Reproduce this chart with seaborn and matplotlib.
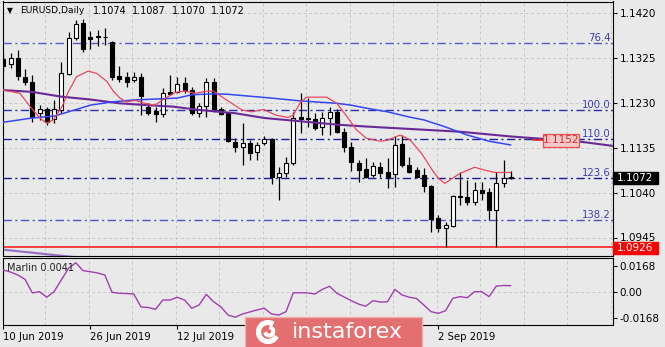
import numpy as np
import pandas as pd
import matplotlib
matplotlib.use("Agg")
import matplotlib.pyplot as plt
import seaborn as sns
from matplotlib.patches import Rectangle, Wedge
from matplotlib.transforms import blended_transform_factory, ScaledTranslation

sns.set_theme(style="white")
plt.rcParams["font.family"] = ["DejaVu Sans"]
plt.rcParams["lines.scale_dashes"] = False
plt.rcParams["axes.linewidth"] = 0.8

BG = "#e9e9e9"
W, H = 665, 347

# ---------------- EURUSD daily candles (bar 0 = 10 Jun 2019) ----------------
opens = [1.1324, 1.1313, 1.1326, 1.1286, 1.1276, 1.1210, 1.1218, 1.1197, 1.1216, 1.1292,
         1.1367, 1.1399, 1.1371, 1.1372, 1.1369, 1.1360, 1.1288, 1.1286, 1.1279, 1.1285,
         1.1223, 1.1214, 1.1207, 1.1253, 1.1253, 1.1272, 1.1258, 1.1209, 1.1224, 1.1276,
         1.1217, 1.1209, 1.1149, 1.1138, 1.1146, 1.1128, 1.1146, 1.1154, 1.1075, 1.1082,
         1.1103, 1.1202, 1.1198, 1.1196, 1.1179, 1.1198, 1.1212, 1.1170, 1.1138, 1.1103,
         1.1091, 1.1079, 1.1096, 1.1086, 1.1081, 1.1144, 1.1100, 1.1089, 1.1079, 1.1055,
         1.0987, 1.0966, 1.0971, 1.1034, 1.1033, 1.1022, 1.1046, 1.1042, 1.1005, 1.1061,
         1.1074]
highs = [1.1336, 1.1336, 1.1343, 1.1302, 1.1290, 1.1226, 1.1223, 1.1237, 1.1318, 1.1381,
         1.1406, 1.1409, 1.1383, 1.1385, 1.1389, 1.1362, 1.1309, 1.1297, 1.1297, 1.1293,
         1.1231, 1.1223, 1.1262, 1.1290, 1.1286, 1.1286, 1.1264, 1.1230, 1.1283, 1.1283,
         1.1223, 1.1210, 1.1156, 1.1188, 1.1153, 1.1149, 1.1160, 1.1156, 1.1095, 1.1116,
         1.1212, 1.1251, 1.1241, 1.1209, 1.1212, 1.1223, 1.1219, 1.1177, 1.1149, 1.1110,
         1.1114, 1.1107, 1.1107, 1.1114, 1.1160, 1.1163, 1.1116, 1.1096, 1.1093, 1.1058,
         1.0994, 1.0980, 1.1036, 1.1086, 1.1068, 1.1064, 1.1064, 1.1051, 1.1086, 1.1110,
         1.1087]
lows = [1.1296, 1.1305, 1.1279, 1.1269, 1.1191, 1.1195, 1.1184, 1.1188, 1.1210, 1.1290,
        1.1364, 1.1339, 1.1344, 1.1350, 1.1353, 1.1279, 1.1276, 1.1265, 1.1276, 1.1205,
        1.1205, 1.1191, 1.1202, 1.1248, 1.1251, 1.1251, 1.1205, 1.1202, 1.1202, 1.1212,
        1.1205, 1.1149, 1.1128, 1.1100, 1.1110, 1.1110, 1.1142, 1.1060, 1.1026, 1.1075,
        1.1100, 1.1167, 1.1181, 1.1174, 1.1163, 1.1163, 1.1167, 1.1128, 1.1088, 1.1064,
        1.1072, 1.1075, 1.1075, 1.1051, 1.1054, 1.1096, 1.1082, 1.1072, 1.1043, 1.0959,
        1.0959, 1.0926, 1.0968, 1.1015, 1.1015, 1.1015, 1.1026, 1.0984, 1.0927, 1.1054,
        1.1070]
closes = [1.1309, 1.1326, 1.1288, 1.1274, 1.1202, 1.1218, 1.1191, 1.1218, 1.1293, 1.1367,
          1.1397, 1.1344, 1.1366, 1.1369, 1.1371, 1.1286, 1.1281, 1.1276, 1.1286, 1.1245,
          1.1210, 1.1207, 1.1251, 1.1250, 1.1270, 1.1258, 1.1210, 1.1224, 1.1276, 1.1219,
          1.1207, 1.1151, 1.1138, 1.1146, 1.1126, 1.1142, 1.1154, 1.1074, 1.1082, 1.1103,
          1.1200, 1.1196, 1.1197, 1.1177, 1.1198, 1.1212, 1.1170, 1.1138, 1.1107, 1.1089,
          1.1075, 1.1098, 1.1082, 1.1075, 1.1142, 1.1100, 1.1086, 1.1075, 1.1055, 1.0985,
          1.0966, 1.0973, 1.1034, 1.1032, 1.1022, 1.1046, 1.1040, 1.1005, 1.1062, 1.1072,
          1.1072]

# Moving averages (bar position, price)
fast_ma_bar = [0, 2.3, 3.7, 5.1, 6, 6.9, 8.1, 9, 10.1, 11.7, 12.9, 14.3, 15.2, 16.1, 17,
               18.2, 19.5, 20.9, 22.3, 23.7, 25.1, 26.4, 27.8, 29, 30.1, 31.5, 32.9, 34.3,
               35.9, 37.6, 39.3, 40, 40.9, 41.8, 44.6, 46, 47.4, 48.7, 50.1, 52, 53, 54.7,
               56.1, 57.7, 59.3, 60, 60.9, 63, 65, 66.4, 67.8, 70]
fast_ma = [1.1258, 1.1251, 1.1223, 1.1198, 1.1188, 1.1195, 1.1223, 1.1255, 1.1286, 1.1298,
           1.1293, 1.1276, 1.1255, 1.1241, 1.1233, 1.1236, 1.1230, 1.1226, 1.1240, 1.1253,
           1.1256, 1.1251, 1.1255, 1.1256, 1.1244, 1.1230, 1.1216, 1.1212, 1.1217, 1.1205,
           1.1200, 1.1205, 1.1230, 1.1243, 1.1243, 1.1230, 1.1202, 1.1174, 1.1156, 1.1150,
           1.1152, 1.1163, 1.1153, 1.1124, 1.1086, 1.1072, 1.1061, 1.1082, 1.1095, 1.1089,
           1.1084, 1.1084]
mid_ma_bar = [0, 4, 7, 9, 12, 15, 18, 21, 24, 26, 29, 31, 34, 37, 41, 44, 46, 48, 50, 53,
              56, 58, 61, 64, 67, 70]
mid_ma = [1.1190, 1.1199, 1.1203, 1.1212, 1.1226, 1.1233, 1.1237, 1.1239, 1.1241, 1.1248,
          1.1250, 1.1249, 1.1245, 1.1241, 1.1235, 1.1232, 1.1230, 1.1226, 1.1220, 1.1212,
          1.1201, 1.1195, 1.1180, 1.1163, 1.1150, 1.1142]
trend_bar = [0, 4, 8, 12, 16, 20, 23.4, 27, 32, 36, 41, 46, 50, 54.7, 63, 70, 79.6, 84.1]
trend = [1.1258, 1.1254, 1.1244, 1.1238, 1.1230, 1.1226, 1.1223, 1.1216, 1.1209, 1.1199,
         1.1192, 1.1185, 1.1181, 1.1177, 1.1170, 1.1160, 1.1149, 1.1140]
low_line_bar = [0, 10]
low_line = [1.0921, 1.0905]

# Fibonacci expansion levels
fib_labels = ["76.4", "100.0", "110.0", "123.6", "138.2"]
fib_prices = [1.1358, 1.1216, 1.1154, 1.1072, 1.0984]
fib_colors = ["#5a5ac4", "#2e2eaa", "#20209a", "#1a1a8e", "#5252c0"]

support_price = 1.0926
last_price = 1.1072
trend_label_price = 1.1152

# Marlin oscillator
marlin = [0.0142, 0.0129, 0.0110, 0.0082, -0.0006, 0.0002, -0.0034, 0.0002, 0.0078, 0.0153,
          0.0189, 0.0138, 0.0131, 0.0123, 0.0110, -0.0002, -0.0008, -0.0010, -0.0013, -0.0097,
          -0.0100, -0.0112, -0.0052, -0.0052, -0.0034, -0.0052, -0.0105, -0.0084, -0.0015, -0.0063,
          -0.0095, -0.0149, -0.0163, -0.0142, -0.0129, -0.0116, -0.0105, -0.0142, -0.0149, -0.0127,
          -0.0005, -0.0005, -0.0006, -0.0013, 0.0017, 0.0037, -0.0008, -0.0032, -0.0056, -0.0078,
          -0.0092, -0.0056, -0.0065, -0.0063, 0.0017, -0.0019, -0.0034, -0.0042, -0.0084, -0.0127,
          -0.0138, -0.0121, -0.0041, -0.0030, -0.0037, 0.0002, 0.0002, -0.0030, 0.0038, 0.0042,
          0.0041]

price_ticks = [1.1420, 1.1325, 1.1230, 1.1135, 1.1040, 1.0945]
osc_ticks = [0.0168, 0.0, -0.0168]
osc_tick_labels = ["0.0168", "0.00", "-0.0168"]
date_bars = [0, 12, 24, 60]
date_labels = ["10 Jun 2019", "26 Jun 2019", "12 Jul 2019", "2 Sep 2019"]


def fx(px):
    return px / W


def fy(py):
    return 1 - py / H


fig = plt.figure(figsize=(W / 100, H / 100), dpi=100, facecolor=BG)
ax = fig.add_axes([fx(2.5), fy(255.5), fx(612.5) - fx(2.5), fy(1.5) - fy(255.5)], facecolor=BG)
ax2 = fig.add_axes([fx(2.5), fy(325), fx(612.5) - fx(2.5), fy(258) - fy(325)], facecolor=BG)

XMIN, XMAX = -0.11, 84.03
PX_PER_UNIT = 4736.8
for a in (ax, ax2):
    a.set_xlim(XMIN, XMAX)
    for s in a.spines.values():
        s.set_color("black")
        s.set_linewidth(0.8)
ax.set_ylim(1.09087, 1.14449)
ax2.set_ylim(-0.02133, 0.02197)

grid_kw = dict(color="#c6c6c6", lw=0.7, ls=(0, (2, 2)), zorder=0.5)
for k in range(1, 15):
    ax.axvline(6 * k - 0.2, **grid_kw)
    ax2.axvline(6 * k - 0.2, **grid_kw)
for p in price_ticks:
    ax.axhline(p, **grid_kw)
ax2.axhline(0, **grid_kw)

# Fibonacci levels
for lab, p, col in zip(fib_labels, fib_prices, fib_colors):
    ax.axhline(p, color=col, lw=1.0, ls=(0, (6, 2.5, 1.5, 2.5)), zorder=1)
    ax.annotate(lab, xy=(0.9975, p), xycoords=("axes fraction", "data"),
                xytext=(0, 1.3), textcoords="offset points", ha="right", va="baseline",
                fontsize=7.3, color="#4040aa", zorder=6)

ax.axhline(support_price, color="#ff1010", lw=1.1, zorder=2)
sns.lineplot(x=low_line_bar, y=low_line, ax=ax, color="#9a72c4", lw=1.6, zorder=2)

# candles
bars = np.arange(len(opens))
o, hi, lo, c = map(np.array, (opens, highs, lows, closes))
up = c >= o
ax.vlines(bars, lo, hi, color="black", lw=0.9, zorder=3)
body_lo = np.minimum(o, c)
body_h = np.maximum(np.abs(c - o), 0.00006)
ax.bar(bars[up], body_h[up], bottom=body_lo[up], width=0.56, color="white",
       edgecolor="black", lw=0.8, zorder=4)
ax.bar(bars[~up], body_h[~up], bottom=body_lo[~up], width=0.56, color="black",
       edgecolor="black", lw=0.8, zorder=4)

# moving averages and trend line
sns.lineplot(x=trend_bar, y=trend, ax=ax, color="#6a2a96", lw=1.5, zorder=5)
sns.lineplot(x=mid_ma_bar, y=mid_ma, ax=ax, color="#3646f0", lw=1.1, zorder=5)
sns.lineplot(x=fast_ma_bar, y=fast_ma, ax=ax, color="#e8475e", lw=0.9, zorder=5)

# trend line price label
lab_h = 13.4 / PX_PER_UNIT
ax.plot([73.0, 74.4], [trend_label_price, trend_label_price], color="#e82020", lw=1.2, zorder=6)
ax.add_patch(Rectangle((74.4, trend_label_price - lab_h / 2), 5.05, lab_h,
                       facecolor="#f2c8c8", edgecolor="#e85050", lw=0.9, zorder=6))
ax.text(76.92, trend_label_price, "1.1152", ha="center", va="center", fontsize=7.5,
        color="#e02828", zorder=7)

# right axis
for a in (ax, ax2):
    a.yaxis.tick_right()
    a.tick_params(axis="y", which="both", length=3, width=0.8, pad=2, labelsize=7.5,
                  colors="black", right=True, left=False)
ax.set_yticks(price_ticks)
ax.set_yticklabels([f"{p:.4f}" for p in price_ticks])
ax.tick_params(axis="x", bottom=False, labelbottom=False)
# lift the lowest price label a touch so it clears the support tag
lowest_label = ax.get_yticklabels()[-1]
lowest_label.set_transform(lowest_label.get_transform()
                           + ScaledTranslation(0, 1.5 / 100, fig.dpi_scale_trans))

trans = blended_transform_factory(fig.transFigure, ax.transData)
for p, txt, face, dy, hpx in ((last_price, "1.1072", "black", 0.0, 12.5),
                              (support_price, "1.0926", "#ff0000", -0.7 / PX_PER_UNIT, 11.5)):
    bh = hpx / PX_PER_UNIT
    ax.add_patch(Rectangle((fx(613), p + dy - bh / 2), fx(658) - fx(613), bh, transform=trans,
                           facecolor=face, edgecolor=face, clip_on=False, zorder=10))
    ax.text(fx(635.5), p + dy, txt, transform=trans, ha="center", va="center", fontsize=7.5,
            color="white", clip_on=False, zorder=11)

# Marlin panel
sns.lineplot(x=bars, y=marlin, ax=ax2, color="#a03fae", lw=1.0, zorder=3)
ax2.set_yticks(osc_ticks)
ax2.set_yticklabels(osc_tick_labels)
ax2.set_xticks(date_bars)
ax2.set_xticklabels(date_labels, ha="left")
ax2.tick_params(axis="x", length=3, width=0.8, pad=2, labelsize=7.3, colors="black", bottom=True)
ax2.set_xlabel("")
ax2.set_ylabel("")
ax.set_xlabel("")
ax.set_ylabel("")

fig.text(fx(7), fy(268), "Marlin 0.0041", fontsize=7, va="center", ha="left", color="#202020")

# header
fig.text(fx(6.5), fy(10.5), "\u25bc", fontsize=5.5, va="center", ha="left", color="black")
fig.text(fx(20), fy(10.5), "EURUSD,Daily", fontsize=6.6, va="center", ha="left", color="black")
for xp, val in zip([93, 132, 171.5, 210.5], ["1.1074", "1.1087", "1.1070", "1.1072"]):
    fig.text(fx(xp), fy(10.5), val, fontsize=7, va="center", ha="left", color="black")

# brand badge
fig.add_artist(Rectangle((fx(245), fy(349)), fx(422) - fx(245), fy(316.5) - fy(349),
                         transform=fig.transFigure, facecolor="#e46f70", edgecolor="#f2aeae",
                         lw=1.0, zorder=4))
logo = fig.add_axes([fx(253), fy(344), fx(283) - fx(253), fy(320) - fy(344)], zorder=5)
logo.set_xlim(-1.25, 1.25)
logo.set_ylim(-1.0, 1.0)
logo.set_aspect("equal")
logo.axis("off")
logo.add_patch(Wedge((0, 0), 0.95, 60, 330, width=0.32, color="white"))
logo.add_patch(Wedge((0.1, 0.05), 0.45, 200, 80, width=0.22, color="white"))
fig.text(fx(347.5), fy(337.5), "instaforex", fontsize=16, color="white", ha="center",
         va="baseline", zorder=6)

fig.savefig("out.png", dpi=100, facecolor=BG)
